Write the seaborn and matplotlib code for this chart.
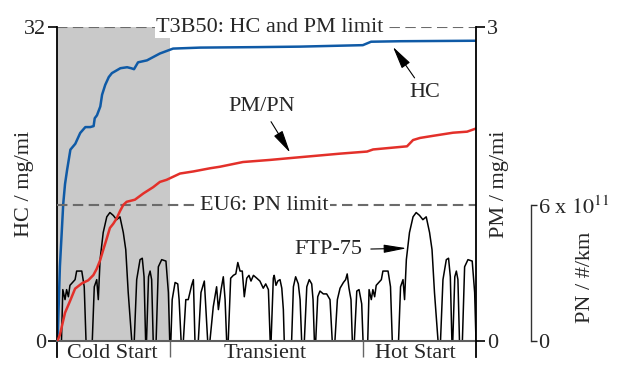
import matplotlib
matplotlib.use("Agg")
import matplotlib.pyplot as plt
from matplotlib import transforms
import numpy as np
import pandas as pd
import seaborn as sns

# ---------------- data ----------------
# FTP-75 speed trace, km/h, per phase (time in s)
cold_t = [0, 20, 26, 36, 43, 51, 58, 81, 88, 111, 122, 130, 158, 167, 178, 185, 193, 207, 223, 237,
          252, 267, 282, 297, 308, 319, 335, 346, 357, 372, 382, 390, 397, 401, 410, 417, 424, 431, 444, 454,
          469, 488, 499, 505]
cold_v = [0, 0, 36, 29, 36, 31, 39, 43, 49, 49, 38, 0, 0, 38, 43, 29, 57, 76, 87, 90,
          88, 85, 87, 76, 64, 34, 0, 0, 43, 57, 58, 45, 0, 0, 45, 49, 43, 0, 0, 52,
          57, 56, 34, 0]
trans_t = [505, 510, 516, 529, 541, 547, 556, 566, 577, 588, 603, 611, 618, 633, 645, 660, 675, 685, 700, 715,
           723, 735, 745, 753, 760, 767, 778, 790, 801, 810, 820, 830, 839, 850, 860, 869, 880, 895, 909, 924,
           935, 947, 955, 959, 969, 973, 981, 989, 999, 1007, 1014, 1018, 1051, 1059, 1069, 1081, 1089, 1096, 1108, 1119,
           1130, 1141, 1147, 1153, 1159, 1168, 1178, 1193, 1208, 1223, 1233, 1245, 1256, 1268, 1283, 1293, 1300, 1308, 1317, 1323,
           1332, 1343, 1353, 1365, 1371]
trans_v = [0, 0, 29, 41, 40, 29, 0, 0, 29, 29, 39, 43, 0, 0, 34, 42, 0, 0, 24, 38,
           22, 36, 45, 29, 0, 0, 44, 46, 47, 55, 49, 49, 31, 44, 46, 42, 46, 44, 42, 37,
           40, 36, 0, 0, 44, 46, 39, 42, 43, 37, 22, 0, 0, 38, 45, 40, 29, 0, 0, 38,
           43, 40, 29, 0, 0, 31, 35, 33, 33, 29, 0, 0, 29, 37, 41, 43, 47, 37, 29, 0,
           0, 35, 36, 26, 0]
hot_t = [1372, 1392, 1398, 1408, 1415, 1423, 1430, 1453, 1460, 1483, 1494, 1502, 1530, 1539, 1550, 1557, 1565, 1579, 1595, 1609,
         1624, 1639, 1654, 1669, 1680, 1691, 1707, 1718, 1729, 1744, 1754, 1762, 1769, 1773, 1782, 1789, 1796, 1803, 1816, 1826,
         1841, 1860, 1871, 1877]
hot_v = [0, 0, 36, 29, 36, 31, 39, 43, 49, 49, 38, 0, 0, 38, 43, 29, 57, 76, 87, 90,
         88, 85, 87, 76, 64, 34, 0, 0, 43, 57, 58, 45, 0, 0, 45, 49, 43, 0, 0, 52,
         57, 56, 34, 0]

# cumulative HC, mg/mi
hc_t = [0, 4, 13, 21, 28, 36, 45, 60, 82, 104, 127, 149, 164, 169, 179, 194, 202, 216, 232, 246,
        284, 314, 332, 345, 363, 403, 461, 520, 641, 900, 1089, 1370, 1407, 1537, 1877]
hc_v = [0, 1, 7.6, 11, 14, 16, 17.4, 19.5, 20.1, 21.2, 21.8, 21.8, 21.9, 22.7, 23.0, 23.9, 25.1, 26.1, 26.9, 27.3,
        27.8, 27.9, 27.8, 27.7, 28.4, 28.6, 29.3, 29.8, 29.9, 29.95, 30.0, 30.15, 30.5, 30.55, 30.6]

# cumulative PM/PN, mg/mi
pm_t = [0, 4, 13, 36, 58, 81, 111, 140, 163, 178, 193, 207, 223, 237, 252, 267, 282, 297, 312, 349,
        387, 431, 461, 491, 551, 611, 685, 730, 833, 954, 1057, 1268, 1389, 1416, 1568, 1595, 1626, 1684, 1774, 1837,
        1877]
pm_v = [0, 0.01, 0.06, 0.27, 0.38, 0.50, 0.55, 0.58, 0.63, 0.69, 0.77, 0.87, 0.98, 1.08, 1.12, 1.17, 1.24, 1.30, 1.33, 1.35,
        1.41, 1.47, 1.52, 1.54, 1.60, 1.62, 1.65, 1.665, 1.71, 1.73, 1.75, 1.79, 1.81, 1.83, 1.86, 1.92, 1.94, 1.96, 1.99, 2.0,
        2.03]

phase_edges = [0, 505, 1372, 1877]
phase_names = ["Cold Start", "Transient", "Hot Start"]
phase_label_t = [250, 932, 1605]

hc_limit = 32        # T3B50 HC limit (left axis max)
pm_limit = 3         # T3B50 PM limit (right axis max)
pn_limit = 6         # EU6 PN limit, x 1e11 #/km

# ---------------- style ----------------
sns.set_style("ticks")
plt.rcParams["font.family"] = ["Liberation Serif", "DejaVu Serif"]
plt.rcParams["mathtext.fontset"] = "stix"
FS = 16
BLUE = "#0f5aa6"
RED = "#e3302a"
GREY_SHADE = "#c9c9c9"
DASH_GREY = "#6b6b6b"

W, H = 618, 366
fig = plt.figure(figsize=(W / 100, H / 100), dpi=100)
L, R, B, T = 57, 476, 341, 27
ax = fig.add_axes([L / W, 1 - B / H, (R - L) / W, (B - T) / H])
ax_s = ax.twinx()
ax_pm = ax.twinx()
ax_s.set_zorder(1)
ax.set_zorder(2)
ax_pm.set_zorder(3)
for a in (ax, ax_s, ax_pm):
    a.patch.set_visible(False)

# PN axis (separate short axis)
PN_X, PN_TOP = 531, 205
ax3 = fig.add_axes([PN_X / W - 0.0001, 1 - B / H, 0.0001, (B - PN_TOP) / H])
ax3.patch.set_visible(False)

# ---------------- speed trace + shading ----------------
speed = pd.DataFrame({"t": cold_t + trans_t + hot_t, "v": cold_v + trans_v + hot_v})
ax_s.axvspan(phase_edges[0], phase_edges[1], color=GREY_SHADE, lw=0, zorder=0)
sns.lineplot(data=speed, x="t", y="v", ax=ax_s, color="black", lw=1.1,
             estimator=None, sort=False, zorder=2)
ax_s.set_ylim(0, 220)
ax_s.set_xlim(0, 1877)
ax_s.axis("off")

# ---------------- HC ----------------
hc = pd.DataFrame({"t": hc_t, "v": hc_v})
sns.lineplot(data=hc, x="t", y="v", ax=ax, color=BLUE, lw=1.8, estimator=None, sort=False)
ax.axhline(hc_limit, color=DASH_GREY, lw=1.5, dashes=(5, 2.6), zorder=1)
ax.set_xlim(0, 1877)
ax.set_ylim(0, 32)
ax.set_yticks([0, 32])
ax.set_yticklabels(["0", "32"], fontsize=FS)
ax.set_xlabel("")
ax.set_ylabel("HC / mg/mi", fontsize=FS)
ax.yaxis.set_label_coords(-0.056, 0.5)
ax.set_xticks(phase_label_t)
ax.set_xticklabels(phase_names, fontsize=FS)
ax.set_xticks(phase_edges[1:3], minor=True)
ax.tick_params(axis="x", which="major", length=0, pad=2)
ax.tick_params(axis="x", which="minor", length=11.5, width=1.0, color="#666666", direction="out")
ax.tick_params(axis="y", length=6.5, width=1.2, color="black", pad=1.5, direction="out")
for s in ("top", "right"):
    ax.spines[s].set_visible(False)
ax.spines["left"].set_bounds(-1.63, 32)
ax.spines["left"].set_linewidth(1.3)
ax.spines["left"].set_color("black")
ax.spines["bottom"].set_color("#5e5e5e")
ax.spines["bottom"].set_linewidth(1.5)

# ---------------- PM ----------------
pm = pd.DataFrame({"t": pm_t, "v": pm_v})
sns.lineplot(data=pm, x="t", y="v", ax=ax_pm, color=RED, lw=1.8, estimator=None, sort=False)
ax_pm.set_xlim(0, 1877)
ax_pm.set_ylim(0, 3)
ax_pm.set_yticks([0, 3])
ax_pm.set_yticklabels(["0", "3"], fontsize=FS)
ax_pm.set_xlabel("")
ax_pm.set_ylabel("PM / mg/mi", fontsize=FS)
ax_pm.yaxis.set_label_position("right")
ax_pm.yaxis.set_label_coords(1.034, 0.5)
ax_pm.tick_params(axis="y", length=6.5, width=1.2, color="black", pad=1.5, direction="out")
for s in ("top", "left", "bottom"):
    ax_pm.spines[s].set_visible(False)
ax_pm.spines["right"].set_bounds(-0.153, 3)
ax_pm.spines["right"].set_linewidth(1.3)
ax_pm.spines["right"].set_color("black")

# ---------------- PN axis ----------------
ax3.set_ylim(0, 6)
ax3.set_yticks([0, pn_limit])
ax3.set_yticklabels(["0", r"6 x $10^{11}$"], fontsize=FS)
ax3.set_xticks([])
ax3.tick_params(axis="y", left=False, labelleft=False, right=True, labelright=True,
                direction="out", length=4, width=1.0, pad=1)
for s in ("top", "left", "bottom"):
    ax3.spines[s].set_visible(False)
ax3.spines["right"].set_linewidth(1.0)
ax3.spines["right"].set_color("#333333")
fig.text(585 / W, 1 - 277 / H, "PN / #/km", rotation=90, ha="center", va="center", fontsize=FS)

# EU6 PN limit line (aligned with PN axis top)
blend_x_axes = transforms.blended_transform_factory(ax.transAxes, ax3.transData)
blend_x_data = transforms.blended_transform_factory(ax.transData, ax3.transData)
ax_pm.plot([0, 1], [pn_limit, pn_limit], transform=blend_x_axes, color=DASH_GREY,
           lw=1.5, dashes=(5, 2.6), zorder=1, clip_on=False)
ax_pm.text(927, pn_limit, "EU6: PN limit", transform=blend_x_data, ha="center", va="center",
           fontsize=FS, zorder=5, bbox=dict(facecolor="white", edgecolor="none", pad=1.0))
ax_pm.text(954, pm_limit, "T3B50: HC and PM limit", ha="center", va="center", fontsize=FS,
           zorder=5, bbox=dict(facecolor="white", edgecolor="none", pad=1.0), clip_on=False)

# ---------------- annotations ----------------
arrow = dict(arrowstyle="-|>,head_length=1.0,head_width=0.22", color="black", lw=0.8,
             mutation_scale=14, shrinkA=2, shrinkB=0)
ax_pm.annotate("HC", xy=(1505, 2.81), xytext=(1649, 2.37), ha="center", va="center",
               fontsize=FS, arrowprops=arrow)
ax_pm.annotate("PM/PN", xy=(1044, 1.80), xytext=(917, 2.24), ha="center", va="center",
               fontsize=FS, arrowprops=arrow)
ax_pm.annotate("FTP-75", xy=(1567, 0.886), xytext=(1214, 0.87), ha="center", va="center",
               fontsize=FS, arrowprops=dict(arrowstyle="-|>,head_length=1.0,head_width=0.18",
                                           color="black", lw=0.8, mutation_scale=14,
                                           shrinkA=4, shrinkB=0))

fig.savefig("out.png", dpi=100)
